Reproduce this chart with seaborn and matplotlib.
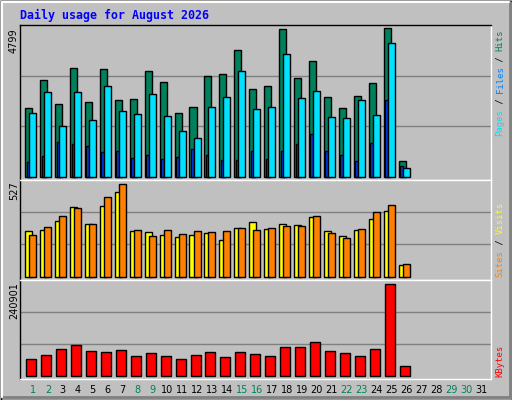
import numpy as np
import pandas as pd
import seaborn as sns
import matplotlib
matplotlib.use("Agg")
import matplotlib.pyplot as plt
from matplotlib.lines import Line2D

days = np.arange(1, 27)
hits = [2226, 3138, 2356, 3529, 2421, 3496, 2486, 2519, 3431, 3073, 2063, 2258, 3268,
        3333, 4082, 2845, 2942, 4766, 3203, 3724, 2584, 2226, 2617, 3040, 4799, 499]
files = [2063, 2747, 1639, 2747, 1835, 2942, 2128, 2030, 2682, 1965, 1477, 1249, 2258,
         2584, 3431, 2193, 2258, 3952, 2551, 2779, 1933, 1900, 2486, 1998, 4310, 304]
pages = [467, 662, 1118, 1053, 988, 793, 825, 597, 695, 565, 630, 890, 695,
         532, 532, 825, 565, 825, 1053, 1379, 825, 695, 499, 1086, 2486, 369]
visits = [259, 264, 316, 396, 299, 401, 481, 259, 253, 236, 224, 236, 247,
          207, 276, 310, 270, 299, 293, 339, 259, 230, 264, 327, 373, 65]
sites = [236, 281, 344, 390, 299, 453, 527, 264, 230, 264, 242, 259, 253,
         259, 276, 264, 276, 287, 287, 344, 247, 219, 270, 367, 407, 70]
kbytes = [43080, 53630, 69460, 80010, 64180, 61540, 66820, 50990, 58910, 50990, 43080,
          53630, 61540, 48360, 61540, 56270, 50990, 74730, 74730, 87920, 64180, 58910,
          50990, 69460, 240901, 24620]
day_labels = [str(d) for d in range(1, 32)]
weekend = {1, 2, 8, 9, 15, 16, 22, 23, 29, 30}

BG = "#C0C0C0"
GREEN, CYAN, BLUE = "#00805C", "#00E0FF", "#0040FF"
YELLOW, ORANGE, RED = "#FFFF00", "#FF8000", "#FF0000"

sns.set_theme(style="white")
fig = plt.figure(figsize=(5.12, 4.0), dpi=100, facecolor=BG)
W, H = 512.0, 400.0

def axes_px(x0, y0, x1, y1):
    return fig.add_axes([x0 / W, 1 - y1 / H, (x1 - x0) / W, (y1 - y0) / H])

ax1 = axes_px(20, 25, 491, 180)
ax2 = axes_px(20, 180, 491, 280)
ax3 = axes_px(20, 280, 491, 379)

def bars(ax, vals, off, w, color):
    sns.barplot(x=days + off, y=vals, native_scale=True, width=w, color=color,
                saturation=1, edgecolor="black", linewidth=1.0, ax=ax)

bars(ax1, hits, -0.285, 0.47, GREEN)
bars(ax1, pages, -0.32, 0.2, BLUE)
bars(ax1, files, -0.015, 0.47, CYAN)
bars(ax2, visits, -0.285, 0.47, YELLOW)
bars(ax2, sites, -0.015, 0.47, ORANGE)
bars(ax3, kbytes, -0.115, 0.67, RED)

lims = [(ax1, -98, 4900), (ax2, -19, 552), (ax3, -8700, 252500)]
for ax, lo, hi in lims:
    ax.set_facecolor(BG)
    ax.set_xlim(0.13, 31.67)
    ax.set_ylim(lo, hi)
    for g in (hi / 3, 2 * hi / 3):
        ax.axhline(g, color="#808080", lw=1, zorder=0)
    ax.set_yticks([])
    ax.set_xticks([])
    ax.set_xlabel("")
    ax.set_ylabel("")
    ax.set_axisbelow(True)
    for s in ax.spines.values():
        s.set_linewidth(1)
    ax.spines["left"].set_color("black")
    ax.spines["top"].set_color("black")
    ax.spines["right"].set_color("white")
    ax.spines["bottom"].set_color("white")
ax2.spines["top"].set_color("white")
ax3.spines["top"].set_color("white")
ax1.spines["bottom"].set_color("white")
ax2.spines["bottom"].set_color("white")

ax3.set_xticks(range(1, 32))
ax3.set_xticklabels(day_labels, fontsize=7, family="DejaVu Sans")
ax3.tick_params(axis="x", length=0, pad=4)
for lab, d in zip(ax3.get_xticklabels(), range(1, 32)):
    lab.set_color(GREEN if d in weekend else "black")

# title
fig.text(20 / W, 1 - 15 / H, "Daily usage for August 2026", family="DejaVu Sans Mono",
         weight="bold", size=8.4, color="#0000FF", va="center", ha="left")

# left max labels
for txt, ytop in [("4799", 28), ("527", 181), ("240901", 282)]:
    fig.text(14 / W, 1 - ytop / H, txt, rotation=90, va="top", ha="center",
             size=7, family="DejaVu Sans", color="black")

cw = 0.6 * 6.4 * 100 / 72
def rot_label(segs, x, ybot):
    y = ybot
    for s, c in segs:
        fig.text(x / W, 1 - y / H, s, rotation=90, va="bottom", ha="center",
                 family="DejaVu Sans Mono", size=6.4, color=c)
        y -= len(s) * cw

rot_label([("Pages", CYAN), (" / ", "black"), ("Files", "#0080FF"), (" / ", "black"),
           ("Hits", GREEN)], 500, 136)
rot_label([("Sites", ORANGE), (" / ", "black"), ("Visits", YELLOW)], 500, 277)
rot_label([("KBytes", RED)], 500, 377)

# bevel frame
def line(x0, y0, x1, y1, c, lw=1):
    fig.add_artist(Line2D([x0 / W, x1 / W], [1 - y0 / H, 1 - y1 / H], color=c, lw=lw))
line(0.5, 0.5, 511.5, 0.5, "black")
line(0.5, 0.5, 0.5, 399.5, "black")
line(511.5, 0.5, 511.5, 399.5, "black")
line(0.5, 399.5, 511.5, 399.5, "black")
line(2, 397, 510, 397, "#808080", 2)
line(509.5, 2, 509.5, 397, "#808080", 2)
line(2, 2, 509, 2, "white", 1.5)
line(2, 2, 2, 397, "white", 1.5)

fig.savefig("out.png", dpi=100, facecolor=BG)
